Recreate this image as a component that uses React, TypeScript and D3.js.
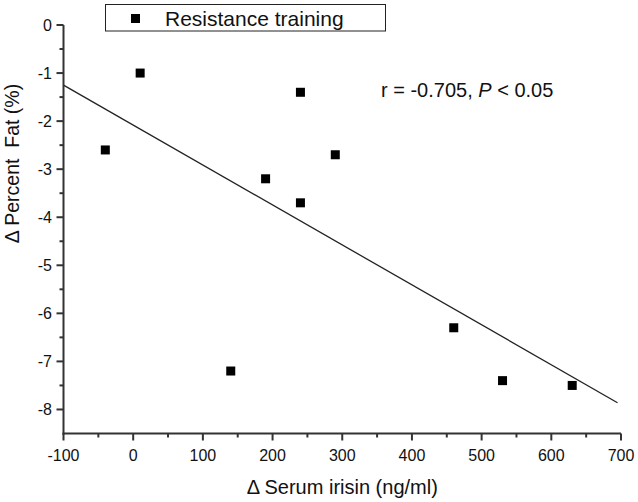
import React from "react";
import * as d3 from "d3";

const serumIrisin = [-40, 10, 140, 190, 240, 240, 290, 460, 530, 630];
const percentFat = [-2.6, -1.0, -7.2, -3.2, -1.4, -3.7, -2.7, -6.3, -7.4, -7.5];
const fitX = [-100, 695];
const fitY = [-1.25, -7.86];
const xTicks = [-100, 0, 100, 200, 300, 400, 500, 600, 700];
const xMinor = [-50, 50, 150, 250, 350, 450, 550, 650];
const yTicks = [0, -1, -2, -3, -4, -5, -6, -7, -8];
const yMinor = [-0.5, -1.5, -2.5, -3.5, -4.5, -5.5, -6.5, -7.5];
const legendLabel = "Resistance training";
const xTitle = "\u0394 Serum irisin (ng/ml)";
const yTitle = "\u0394 Percent  Fat (%)";

const W = 638;
const H = 502;
const font = "'Liberation Sans', Arial, sans-serif";

export default function App() {
  const x = d3.scaleLinear().domain([-100, 700]).range([63.5, 621]);
  const y = d3.scaleLinear().domain([-8.5, 0]).range([433.5, 25]);
  const line = d3
    .line<number>()
    .x((d, i) => x(fitX[i]))
    .y((d) => y(d));
  const x0 = x(-100);
  const y0 = y(-8.5);
  const axisColor = "#333";
  return (
    <svg
      width={W}
      height={H}
      style={{ position: "absolute", left: 0, top: 0, background: "#fff" }}
      fontFamily={font}
    >
      {/* regression line */}
      <path d={line(fitY) || ""} stroke="#222" strokeWidth={1.3} fill="none" />
      {/* points */}
      {serumIrisin.map((v, i) => (
        <rect
          key={i}
          x={x(v) - 4.5}
          y={y(percentFat[i]) - 4.5}
          width={9}
          height={9}
          fill="#000"
        />
      ))}
      {/* y axis */}
      <line x1={x0} x2={x0} y1={y(0)} y2={y0 + 1} stroke={axisColor} strokeWidth={2} />
      {yTicks.map((t) => (
        <g key={"y" + t}>
          <line x1={x0 - 7} x2={x0} y1={y(t)} y2={y(t)} stroke={axisColor} strokeWidth={2} />
          <text x={x0 - 11.5} y={y(t)} dy="0.36em" textAnchor="end" fontSize={16} fill="#111">
            {t}
          </text>
        </g>
      ))}
      {yMinor.map((t) => (
        <line key={"ym" + t} x1={x0 - 4} x2={x0} y1={y(t)} y2={y(t)} stroke={axisColor} strokeWidth={2} />
      ))}
      {/* x axis */}
      <line x1={x0 - 1} x2={x(700)} y1={y0} y2={y0} stroke={axisColor} strokeWidth={2} />
      {xTicks.map((t) => (
        <g key={"x" + t}>
          <line x1={x(t)} x2={x(t)} y1={y0} y2={y0 + 7} stroke={axisColor} strokeWidth={2} />
          <text x={x(t)} y={y0 + 27} textAnchor="middle" fontSize={16} fill="#111">
            {t}
          </text>
        </g>
      ))}
      {xMinor.map((t) => (
        <line key={"xm" + t} x1={x(t)} x2={x(t)} y1={y0} y2={y0 + 4} stroke={axisColor} strokeWidth={2} />
      ))}
      {/* axis titles */}
      <text x={(x0 + x(700)) / 2} y={494} textAnchor="middle" fontSize={20} fill="#111">
        {xTitle}
      </text>
      <text
        transform={`translate(19, 163.5) rotate(-90)`}
        textAnchor="middle"
        fontSize={19.5}
        fill="#111"
        style={{ whiteSpace: "pre" }}
      >
        {yTitle}
      </text>
      {/* legend */}
      <rect x={105.5} y={4.5} width={280} height={26.5} fill="#fff" stroke="#222" strokeWidth={1} />
      <rect x={131} y={14} width={9} height={9} fill="#000" />
      <text x={165} y={25.5} fontSize={21} fill="#111">
        {legendLabel}
      </text>
      {/* annotation */}
      <text x={381} y={97} fontSize={20} fill="#111">
        r = -0.705, <tspan fontStyle="italic">P</tspan> &lt; 0.05
      </text>
    </svg>
  );
}
